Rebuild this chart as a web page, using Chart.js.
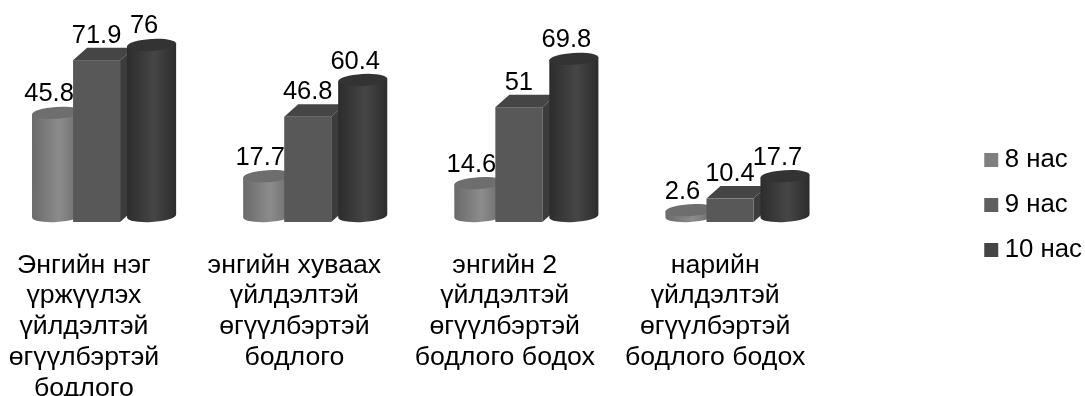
<!DOCTYPE html>
<html>
<head>
<meta charset="utf-8">
<script src="https://cdn.jsdelivr.net/npm/chart.js@4"></script>
<style>
html, body { margin: 0; padding: 0; background: #fff; overflow: hidden; }
#wrap { width: 1085px; height: 396px; }
</style>
</head>
<body>
<div id="wrap"><canvas id="myChart"></canvas></div>
<script>
const categories = ['Энгийн нэг', 'энгийн хуваах', 'энгийн 2', 'нарийн'];
const categoryLines = [
  ['Энгийн нэг', 'үржүүлэх', 'үйлдэлтэй', 'өгүүлбэртэй', 'бодлого'],
  ['энгийн хуваах', 'үйлдэлтэй', 'өгүүлбэртэй', 'бодлого'],
  ['энгийн 2', 'үйлдэлтэй', 'өгүүлбэртэй', 'бодлого бодох'],
  ['нарийн', 'үйлдэлтэй', 'өгүүлбэртэй', 'бодлого бодох']
];
const age8 = [45.8, 17.7, 14.6, 2.6];
const age9 = [71.9, 46.8, 51, 10.4];
const age10 = [76, 60.4, 69.8, 17.7];

const FONT = '"Liberation Sans", Arial, sans-serif';

function cylinder(ctx, bar, light) {
  const cx = bar.x - 1.5;
  const rx = bar.width / 2 + 0.8;
  const ry = 6;
  const tilt = -0.06;
  const top = bar.y - 6;
  const bottom = bar.base - 6;
  const g = ctx.createLinearGradient(cx - rx, 0, cx + rx, 0);
  g.addColorStop(0, light ? '#6a6a6a' : '#2c2c2c');
  g.addColorStop(0.55, light ? '#8c8c8c' : '#464646');
  g.addColorStop(1, light ? '#6a6a6a' : '#2c2c2c');
  const dy = rx * Math.sin(tilt);
  ctx.fillStyle = g;
  ctx.beginPath();
  ctx.ellipse(cx, bottom, rx, ry, tilt, 0, Math.PI);
  ctx.lineTo(cx - rx, top - dy);
  ctx.lineTo(cx + rx, top + dy);
  ctx.lineTo(cx + rx, bottom + dy);
  ctx.closePath();
  ctx.fill();
  ctx.fillStyle = light ? '#6e6e6e' : '#333333';
  ctx.beginPath();
  ctx.ellipse(cx, top, rx, ry, tilt, 0, Math.PI * 2);
  ctx.fill();
}

function box(ctx, bar) {
  const left = bar.x - 32.5;
  const right = left + 47;
  const dx = 14;
  const dy = 12.5;
  ctx.fillStyle = '#3c3c3c';
  ctx.beginPath();
  ctx.moveTo(right, bar.y);
  ctx.lineTo(right + dx, bar.y - dy);
  ctx.lineTo(right + dx, bar.base - dy);
  ctx.lineTo(right, bar.base);
  ctx.fill();
  ctx.fillStyle = '#454545';
  ctx.beginPath();
  ctx.moveTo(left, bar.y);
  ctx.lineTo(left + dx, bar.y - dy);
  ctx.lineTo(right + dx, bar.y - dy);
  ctx.lineTo(right, bar.y);
  ctx.fill();
  ctx.fillStyle = '#585858';
  ctx.fillRect(left, bar.y, 47, bar.base - bar.y);
}

// the bars are shaped here from the elements the scales laid out
const bars3d = {
  id: 'bars3d',
  beforeDatasetDraw() {
    return false;
  },
  afterDatasetsDraw(chart) {
    const ctx = chart.ctx;
    ctx.save();
    chart.data.datasets.forEach((ds, i) => {
      chart.getDatasetMeta(i).data.forEach(bar => {
        if (ds.shape3d === 'box') box(ctx, bar);
        else cylinder(ctx, bar, ds.shape3d === 'lightCylinder');
      });
    });
    ctx.fillStyle = '#000';
    ctx.font = '25.5px ' + FONT;
    ctx.textAlign = 'center';
    ctx.textBaseline = 'alphabetic';
    chart.data.datasets.forEach((ds, i) => {
      chart.getDatasetMeta(i).data.forEach((bar, j) => {
        ctx.fillText(String(ds.data[j]), bar.x - 9, bar.y - 17.5);
      });
    });
    ctx.restore();
  }
};

const config = {
  type: 'bar',
  data: {
    labels: categories,
    datasets: [
      { label: '8 нас', data: age8, backgroundColor: '#808080', shape3d: 'lightCylinder' },
      { label: '9 нас', data: age9, backgroundColor: '#5f5f5f', shape3d: 'box' },
      { label: '10 нас', data: age10, backgroundColor: '#454545', shape3d: 'darkCylinder' }
    ]
  },
  options: {
    responsive: true,
    maintainAspectRatio: false,
    animation: false,
    devicePixelRatio: 1,
    categoryPercentage: 0.675,
    barPercentage: 1,
    layout: { padding: { top: 14, right: -7 } },
    plugins: {
      tooltip: false,
      legend: {
        position: 'right',
        labels: {
          color: '#000',
          font: { family: FONT, size: 25.8 },
          usePointStyle: true,
          pointStyle: 'rect',
          boxWidth: 1,
          boxHeight: 14,
          padding: 19.2
        }
      }
    },
    scales: {
      x: { display: false },
      y: { display: false, min: 0, max: 92.4 },
      // category text does not sit on the bar groups, so it gets its own axis
      labelAxis: {
        type: 'linear',
        axis: 'x',
        position: 'bottom',
        bounds: 'data',
        offset: false,
        beginAtZero: false,
        min: -0.399,
        max: 3.615,
        grid: { display: false },
        border: { display: false },
        afterBuildTicks(scale) {
          scale.ticks = categoryLines.map((_, i) => ({ value: i }));
        },
        afterFit(scale) {
          scale.height = 174;
          scale.paddingLeft = 0;
          scale.paddingRight = 0;
        },
        ticks: {
          color: '#000',
          font: { family: FONT, size: 26.7, lineHeight: 1.15 },
          maxRotation: 0,
          autoSkip: false,
          padding: 20,
          callback: value => categoryLines[value]
        }
      },
      // keeps the plot clear of the legend
      legendGap: {
        type: 'linear',
        axis: 'y',
        position: 'right',
        grid: { display: false },
        border: { display: false },
        ticks: { display: false },
        afterFit(scale) {
          scale.width = 127;
        }
      }
    }
  },
  plugins: [bars3d]
};

new Chart(document.getElementById('myChart'), config);
</script>
</body>
</html>
